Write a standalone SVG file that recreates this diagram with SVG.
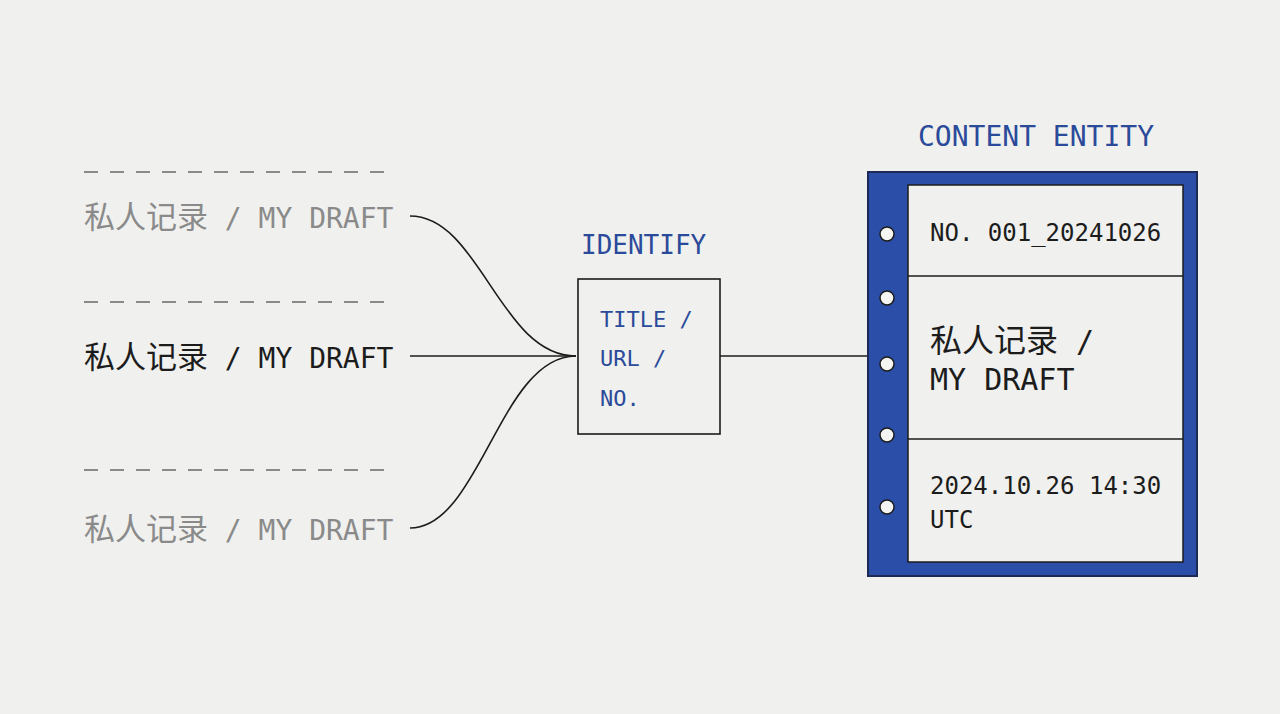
<svg xmlns="http://www.w3.org/2000/svg" width="1280" height="714" viewBox="0 0 1280 714">
<style>
.m{font-family:"DejaVu Sans Mono","Liberation Mono","Noto Sans CJK SC",monospace}
.c{font-family:"Noto Sans CJK SC",sans-serif}
.g{fill:#8a8a8a}.k{fill:#1c1c1c}.b{fill:#2b4a9a}
.dash{stroke:#8a8a8a;stroke-width:2;stroke-dasharray:14 12;fill:none}
.ln{stroke:#1c1c1c;stroke-width:1.6;fill:none}
.hole{fill:#f4f4f2;stroke:#1c1c1c;stroke-width:1.5}
</style>
<rect width="1280" height="714" fill="#f0f0ee"/>
<g id="sources">
<line class="dash" x1="84" y1="172" x2="396" y2="172"/>
<line class="dash" x1="84" y1="302" x2="396" y2="302"/>
<line class="dash" x1="84" y1="470" x2="396" y2="470"/>
<text class="m g" x="84" y="228" font-size="28"><tspan class="c" font-size="31">私人记录</tspan> / MY DRAFT</text>
<text class="m k" x="84" y="368" font-size="28"><tspan class="c" font-size="31">私人记录</tspan> / MY DRAFT</text>
<text class="m g" x="84" y="540" font-size="28"><tspan class="c" font-size="31">私人记录</tspan> / MY DRAFT</text>
</g>
<g id="connectors">
<path class="ln" d="M410 216 C480 216 500 356 576 356"/>
<path class="ln" d="M410 356 L576 356"/>
<path class="ln" d="M410 528 C480 528 500 356 576 356"/>
<path class="ln" d="M720 356 L868 356"/>
</g>
<g id="identify">
<text class="m b" x="581" y="254" font-size="26">IDENTIFY</text>
<rect x="578" y="279" width="142" height="155" fill="none" stroke="#1c1c1c" stroke-width="1.6"/>
<text class="m b" x="600" y="327" font-size="22">TITLE /</text>
<text class="m b" x="600" y="366" font-size="22">URL /</text>
<text class="m b" x="600" y="406" font-size="22">NO.</text>
</g>
<g id="entity">
<text class="m b" x="918" y="146" font-size="28">CONTENT ENTITY</text>
<rect x="868" y="172" width="329" height="404" fill="#2b4fa8" stroke="#1c2a55" stroke-width="2"/>
<rect x="908" y="185" width="275" height="377" fill="#f0f0ee" stroke="#1c1c1c" stroke-width="1.5"/>
<line class="ln" x1="908" y1="276" x2="1183" y2="276"/>
<line class="ln" x1="908" y1="439" x2="1183" y2="439"/>
<circle class="hole" cx="887" cy="234" r="7"/>
<circle class="hole" cx="887" cy="298" r="7"/>
<circle class="hole" cx="887" cy="364" r="7"/>
<circle class="hole" cx="887" cy="435" r="7"/>
<circle class="hole" cx="887" cy="507" r="7"/>
<text class="m k" x="930" y="241" font-size="24">NO. 001_20241026</text>
<text class="m k" x="930" y="352" font-size="30"><tspan class="c" font-size="32">私人记录</tspan> /</text>
<text class="m k" x="930" y="390" font-size="30">MY DRAFT</text>
<text class="m k" x="930" y="494" font-size="24">2024.10.26 14:30</text>
<text class="m k" x="930" y="528" font-size="24">UTC</text>
</g>
</svg>
